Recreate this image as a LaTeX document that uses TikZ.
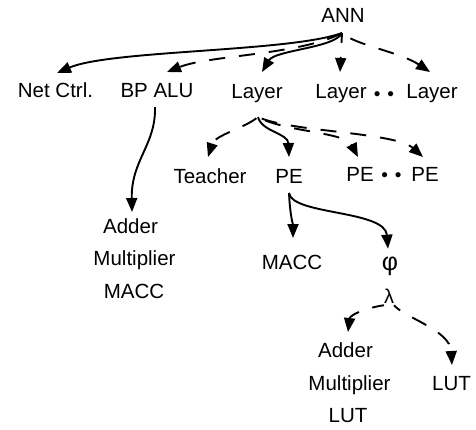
\documentclass[tikz,border=0pt]{standalone}
\usepackage{fontspec}
\setmainfont{Liberation Sans}
\usetikzlibrary{arrows.meta,calc}
\begin{document}
\begin{tikzpicture}[x=1pt,y=-1pt,
  lbl/.style={font=\fontsize{20.5}{24}\selectfont, inner sep=0pt, outer sep=0pt, text height=15pt, text depth=0pt, anchor=base},
  sym/.style={inner sep=0pt, outer sep=0pt, anchor=center},
  dots/.style={font=\fontsize{19}{24}\selectfont, inner sep=0pt, anchor=base},
  link/.style={line width=1.9pt, -{Triangle[length=14pt,width=11pt]}},
  dlink/.style={link, dash pattern=on 16pt off 14pt}
]
\useasboundingbox (0,0) rectangle (476,429);

% nodes
\node[lbl] (ann) at (343,22) {ANN};
\node[lbl] (net) at (55.5,97) {Net Ctrl.};
\node[lbl] (bp) at (157,97) {BP ALU};
\node[lbl] (layA) at (257,98) {Layer};
\node[lbl] (layB) at (341,98) {Layer};
\node[dots] (dotsA) at (384,100) {•\hspace{7pt}•};
\node[lbl] (layC) at (432,98) {Layer};

\node[lbl] (teach) at (210,183) {Teacher};
\node[lbl] (peA) at (289,183) {PE};
\node[lbl] (peB) at (360,181) {PE};
\node[dots] (dotsB) at (391.5,181) {•\hspace{7pt}•};
\node[lbl] (peC) at (425,181) {PE};

\node[lbl] (addA) at (130.5,233) {Adder};
\node[lbl] (mulA) at (134.5,265) {Multiplier};
\node[lbl] (maccA) at (134,298) {MACC};

\node[lbl] (maccB) at (292,269) {MACC};
\node[sym, font=\fontsize{25}{28}\selectfont] (phi) at (390,266) {φ};
\node[sym, font=\fontsize{20}{24}\selectfont] (lam) at (389,296) {λ};

\node[lbl] (addB) at (345.5,357) {Adder};
\node[lbl] (mulB) at (349.5,390) {Multiplier};
\node[lbl] (lutB) at (348,422) {LUT};
\node[lbl] (lutC) at (451.5,390) {LUT};

% connectors from ANN
\coordinate (annS) at ($(ann.base)+(-1,11)$);
\draw[link] (annS) .. controls (290,52) and (110,50) .. ($(net.north)+(1.5,-9)$);
\draw[dlink] (annS) .. controls (300,55) and (210,55) .. ($(bp.north)+(10,-10)$);
\draw[link] (annS) .. controls (335,48) and (275,50) .. ($(layA.north)+(5,-11)$);
\draw[dlink, dash phase=6pt] (annS) -- ($(layB.north)+(-1,-11)$);
\draw[dlink, dash phase=20pt] (annS) .. controls (355,45) and (400,52) .. ($(layC.north)+(-2,-11)$);

% connectors from Layer
\coordinate (layS) at ($(layA.base)+(1,19)$);
\draw[dlink, dash phase=28pt] (layS) .. controls (245,128) and (215,135) .. ($(teach.north)+(-2,-11)$);
\draw[link] (layS) .. controls (262,132) and (288,133) .. ($(peA.north)+(0,-11)$);
\draw[dlink, dash phase=22pt] (layS) .. controls (285,132) and (345,132) .. ($(peB.north)+(-2,-9)$);
\draw[dlink, dash phase=26pt] (layS) .. controls (290,132) and (395,132) .. ($(peC.north)+(-2,-9)$);

% BP ALU
\draw[link] ($(bp.base)+(-2,10)$) .. controls (156,145) and (131,160) .. ($(addA.north)+(1.5,-6)$);

% PE
\coordinate (peS) at ($(peA.base)+(0,10)$);
\draw[link] (peS) .. controls (290,215) and (293,225) .. ($(maccB.north)+(1,-16)$);
\draw[link] (peS) .. controls (292,215) and (385,210) .. ($(phi.north)+(-2,-8)$);

% lambda
\draw[dlink, dash phase=4pt] ($(lam.south)+(-5,2)$) .. controls (365,308) and (350,315) .. ($(addB.north)+(2.5,-10)$);
\draw[dlink, dash phase=8pt] ($(lam.south)+(5,2)$) .. controls (405,318) and (450,330) .. ($(lutC.north)+(0.5,-10)$);
\end{tikzpicture}
\end{document}
